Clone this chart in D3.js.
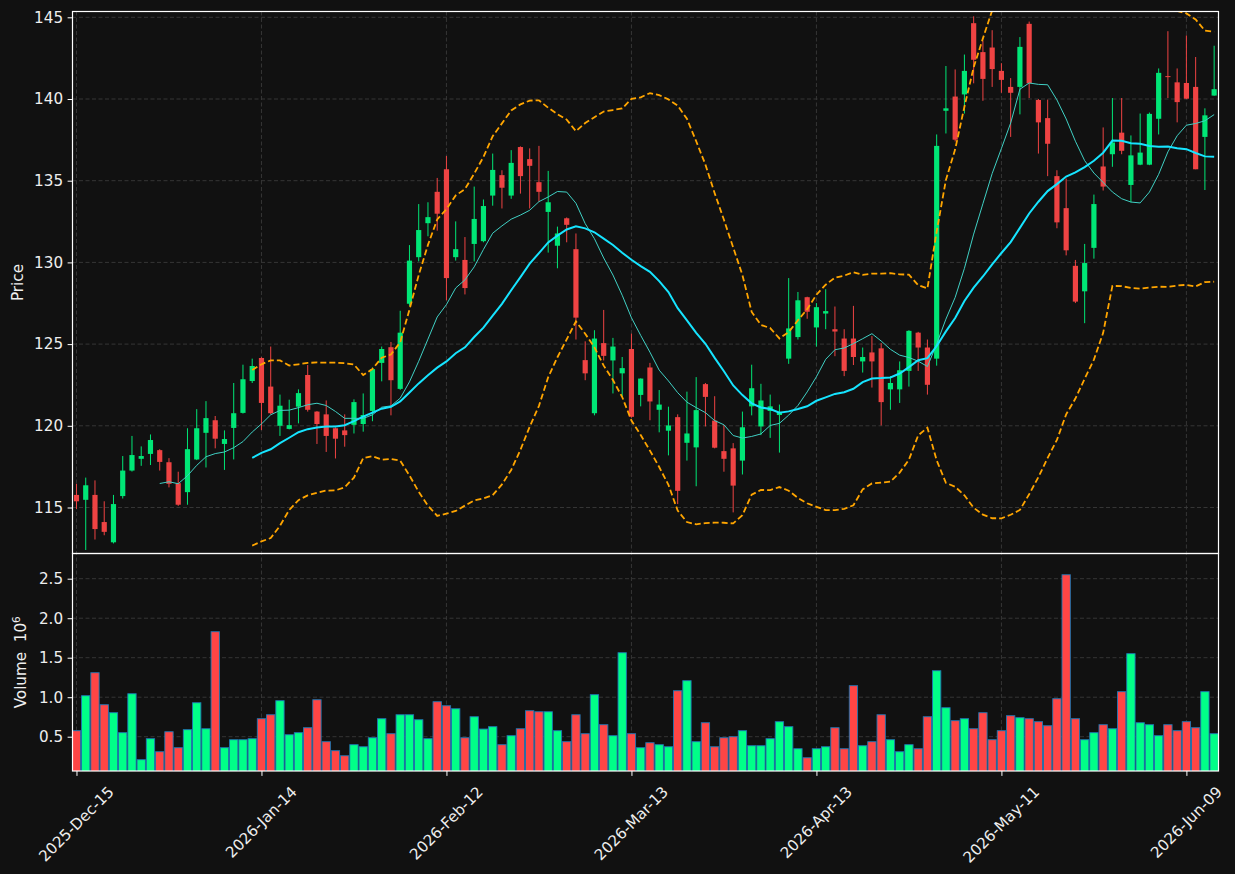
<!DOCTYPE html>
<html>
<head>
<meta charset="utf-8">
<script src="https://cdn.jsdelivr.net/npm/d3@7"></script>
<style>
  body { margin: 0; background: #111111; }
</style>
</head>
<body>
<div id="chart"></div>
<script>
// daily OHLC
const opens = [115.77,115.47,115.77,114.11,112.87,115.70,117.26,117.98,118.28,118.51,
  117.77,116.49,115.94,117.94,119.57,120.34,118.89,119.87,120.79,122.74,
  124.15,122.40,120.00,119.81,121.17,123.11,120.87,120.70,119.85,119.72,
  120.06,120.11,120.91,123.85,124.81,122.26,127.47,130.32,132.40,134.32,
  135.70,130.32,130.15,131.13,131.30,134.09,135.34,134.09,137.06,136.32,
  134.91,133.09,131.02,132.70,130.81,124.02,120.77,125.06,124.00,123.21,
  124.70,121.89,123.57,120.98,119.70,120.53,118.96,118.68,122.55,120.32,
  118.45,118.62,117.87,121.19,119.96,120.91,120.66,124.11,125.43,127.87,
  126.02,126.87,125.91,125.34,125.34,123.94,124.49,124.74,122.23,122.23,
  123.36,125.70,124.79,124.11,139.28,140.15,140.28,144.64,142.87,143.15,
  141.72,140.74,140.74,144.60,139.94,138.83,135.28,133.32,129.79,128.23,
  130.89,135.87,136.62,137.94,134.74,135.98,135.98,138.79,141.40,141.02,
  140.98,140.74,137.68,140.21];
const highs = [116.45,116.83,116.66,115.38,115.77,118.15,119.38,118.74,119.47,118.57,
  118.02,117.19,119.85,121.02,121.51,120.60,119.72,122.62,123.74,124.11,
  124.20,124.85,121.91,121.60,122.23,123.72,120.90,121.55,119.90,120.70,
  121.62,121.98,123.57,124.85,125.13,127.04,131.06,133.57,133.68,135.17,
  136.51,132.51,131.55,134.64,133.85,136.66,135.64,136.87,137.10,136.98,
  137.13,135.60,132.19,132.75,131.77,125.17,125.85,127.09,125.38,124.21,
  125.64,122.90,123.85,122.19,121.17,120.70,122.09,122.98,122.62,121.81,
  120.06,118.94,120.87,123.74,122.57,121.91,121.30,129.04,128.19,127.90,
  127.51,128.36,127.30,125.91,127.34,124.79,125.49,125.06,123.04,123.94,
  125.85,125.75,125.28,137.83,142.02,141.81,142.72,145.06,143.57,144.21,
  142.19,141.28,143.79,144.74,140.00,139.96,135.64,135.13,130.15,131.13,
  134.15,138.26,140.06,140.06,137.77,139.11,139.17,141.87,144.15,141.87,
  143.89,142.57,139.43,143.26];
const lows = [114.91,112.40,113.04,113.30,112.80,115.55,117.20,117.55,117.60,117.26,
  116.23,115.10,115.17,117.90,117.45,118.62,117.30,117.94,120.75,122.62,
  119.74,120.70,119.38,119.78,120.15,120.87,118.89,118.40,118.00,118.72,
  119.53,119.64,120.28,122.72,120.64,122.20,127.34,130.06,131.60,131.94,
  127.68,130.11,128.04,130.06,131.23,133.47,133.30,133.89,134.21,133.30,
  133.72,130.60,129.64,131.23,125.28,122.79,120.64,124.00,121.98,121.77,
  120.50,121.19,120.34,119.60,118.19,115.21,117.87,116.30,119.96,118.62,
  117.19,114.70,117.02,120.64,119.43,119.26,118.36,123.79,125.28,126.55,
  124.85,125.91,124.26,123.04,123.72,123.26,122.34,120.02,120.98,121.40,
  122.40,123.36,121.91,123.68,137.89,137.40,139.11,140.96,139.89,140.74,
  140.38,137.68,139.06,140.06,136.66,135.28,132.09,130.43,127.51,126.28,
  130.23,134.40,135.85,136.62,133.68,135.95,135.95,137.83,140.06,138.57,
  140.00,135.70,134.43,140.20];
const closes = [115.38,116.36,113.68,113.51,115.21,117.26,118.21,118.15,119.13,117.79,
  116.45,115.17,118.57,119.85,120.47,119.21,119.19,120.77,122.85,123.66,
  121.40,120.77,121.23,120.04,122.00,120.98,120.11,119.38,119.21,119.43,
  121.45,120.66,123.47,124.70,122.79,125.70,130.11,131.98,132.77,132.98,
  129.04,130.81,128.43,132.66,133.45,135.66,134.57,136.09,135.28,135.91,
  134.32,133.68,131.77,132.30,126.62,123.21,125.34,124.28,124.85,123.53,
  120.55,122.89,121.49,121.30,120.02,116.02,119.53,120.96,121.77,118.66,
  117.98,116.34,119.91,122.30,121.55,121.19,120.85,125.96,127.68,126.98,
  127.26,127.02,125.77,123.36,124.21,124.21,123.94,121.45,122.62,123.40,
  125.81,124.79,122.51,137.13,139.43,137.51,141.72,142.40,141.23,141.83,
  141.17,140.38,143.19,140.96,138.57,137.26,132.45,130.74,127.60,129.96,
  133.57,134.64,137.34,136.83,136.55,136.72,139.09,141.60,141.36,139.81,
  140.02,135.70,139.00,140.60];
// volume in millions
const volumes = [0.576,1.019,1.310,0.905,0.804,0.551,1.044,0.209,0.475,0.310,
  0.563,0.361,0.589,0.930,0.601,1.829,0.361,0.462,0.462,0.475,
  0.728,0.778,0.956,0.525,0.551,0.614,0.968,0.437,0.323,0.259,
  0.399,0.373,0.487,0.728,0.538,0.778,0.778,0.715,0.475,0.943,
  0.892,0.854,0.487,0.753,0.597,0.627,0.399,0.513,0.601,0.829,
  0.816,0.816,0.576,0.437,0.778,0.538,1.032,0.652,0.513,1.563,
  0.538,0.361,0.424,0.399,0.373,1.082,1.209,0.437,0.677,0.373,
  0.487,0.500,0.576,0.386,0.386,0.475,0.690,0.627,0.348,0.234,
  0.348,0.373,0.614,0.348,1.146,0.386,0.437,0.778,0.462,0.310,
  0.399,0.348,0.753,1.335,0.867,0.703,0.728,0.601,0.804,0.462,
  0.576,0.766,0.741,0.728,0.690,0.639,0.981,2.550,0.728,0.462,
  0.551,0.652,0.601,1.070,1.551,0.677,0.652,0.513,0.652,0.576,
  0.690,0.614,1.070,0.538];

const tickIndex = [0, 20, 40, 60, 80, 100, 120];
const tickLabels = ["2025-Dec-15", "2026-Jan-14", "2026-Feb-12", "2026-Mar-13",
  "2026-Apr-13", "2026-May-11", "2026-Jun-09"];
const priceTicks = [115, 120, 125, 130, 135, 140, 145];
const volTicks = [0.5, 1.0, 1.5, 2.0, 2.5];

const width = 1235, height = 874;
const left = 72.5, right = 1218.5;
const main = { top: 11.5, bottom: 553.5 };
const vol = { top: 553.5, bottom: 771 };

const upColor = "#00e676", downColor = "#ef4343";
const volUp = "#00ff88", volDown = "#ff4545";
const gridColor = "#3a3a3a";
const font = '"DejaVu Sans", Verdana, sans-serif';
const fontSize = 15.2;

const n = closes.length;
const idx = d3.range(n);

// rolling stats from the closes
function rolling(arr, w, f) {
  return arr.map((_, i) => i < w - 1 ? null : f(arr.slice(i - w + 1, i + 1)));
}
const ma10 = rolling(closes, 10, d3.mean);
const ma20 = rolling(closes, 20, d3.mean);
const sd20 = rolling(closes, 20, w => {
  const m = d3.mean(w);
  return Math.sqrt(d3.mean(w, v => (v - m) ** 2));
});
const upper = ma20.map((m, i) => m === null ? null : m + 2 * sd20[i]);
const lower = ma20.map((m, i) => m === null ? null : m - 2 * sd20[i]);

const svg = d3.select("#chart")
  .append("svg")
  .attr("width", width)
  .attr("height", height)
  .style("background", "#111111")
  .style("font-family", font);

let x = d3.scaleLinear()
  .domain([-0.43, n - 1 + 0.47])
  .range([left, right]);
const step = x(1) - x(0);

let y = d3.scaleLinear()
  .domain([112.185, 145.355])
  .range([main.bottom, main.top]);

let yv = d3.scaleLinear()
  .domain([0.066, 2.819])
  .range([vol.bottom, vol.top]);

// clip paths for the two panels
const defs = svg.append("defs");
defs.append("clipPath").attr("id", "clipMain")
  .append("rect").attr("x", left).attr("y", main.top)
  .attr("width", right - left).attr("height", main.bottom - main.top);
defs.append("clipPath").attr("id", "clipVol")
  .append("rect").attr("x", left).attr("y", vol.top)
  .attr("width", right - left).attr("height", vol.bottom - vol.top);

// grid
const grid = svg.append("g")
  .attr("stroke", gridColor)
  .attr("stroke-width", 0.9)
  .attr("stroke-dasharray", "4,2.5");
grid.selectAll(".vg")
  .data(tickIndex)
  .join("line")
  .attr("x1", d => x(d)).attr("x2", d => x(d))
  .attr("y1", main.top).attr("y2", vol.bottom);
grid.selectAll(".hg")
  .data(priceTicks)
  .join("line")
  .attr("class", "hg")
  .attr("x1", left).attr("x2", right)
  .attr("y1", d => y(d)).attr("y2", d => y(d));
grid.selectAll(".hv")
  .data(volTicks)
  .join("line")
  .attr("class", "hv")
  .attr("x1", left).attr("x2", right)
  .attr("y1", d => yv(d)).attr("y2", d => yv(d));

// volume bars
const bw = step * 0.9;
svg.append("g")
  .attr("clip-path", "url(#clipVol)")
  .selectAll("rect")
  .data(idx)
  .join("rect")
  .attr("x", i => x(i) - bw / 2)
  .attr("width", bw)
  .attr("y", i => yv(volumes[i]))
  .attr("height", i => yv.range()[0] - yv(volumes[i]) + 2)
  .attr("fill", i => closes[i] >= opens[i] ? volUp : volDown)
  .attr("stroke", "#1f77b4")
  .attr("stroke-width", 0.9);

// candles
const candles = svg.append("g").attr("clip-path", "url(#clipMain)");
candles.selectAll(".wick")
  .data(idx)
  .join("line")
  .attr("class", "wick")
  .attr("x1", i => x(i)).attr("x2", i => x(i))
  .attr("y1", i => y(highs[i])).attr("y2", i => y(lows[i]))
  .attr("stroke", i => closes[i] >= opens[i] ? upColor : downColor)
  .attr("stroke-width", 1);
const cw = step * 0.56;
candles.selectAll(".body")
  .data(idx)
  .join("rect")
  .attr("class", "body")
  .attr("x", i => x(i) - cw / 2)
  .attr("width", cw)
  .attr("y", i => y(Math.max(opens[i], closes[i])))
  .attr("height", i => Math.max(1, Math.abs(y(opens[i]) - y(closes[i]))))
  .attr("fill", i => closes[i] >= opens[i] ? upColor : downColor);

// moving averages and bands
const lineGen = arr => d3.line()
  .defined(i => arr[i] !== null)
  .x(i => x(i))
  .y(i => y(arr[i]))(idx);

const lines = svg.append("g").attr("clip-path", "url(#clipMain)").attr("fill", "none");
lines.append("path").attr("d", lineGen(ma10))
  .attr("stroke", "#40d0c4").attr("stroke-width", 1);
lines.append("path").attr("d", lineGen(ma20))
  .attr("stroke", "#16e4ff").attr("stroke-width", 2);
[upper, lower].forEach(b => {
  lines.append("path").attr("d", lineGen(b))
    .attr("stroke", "#ffa500").attr("stroke-width", 1.8)
    .attr("stroke-dasharray", "6,3");
});

// axes
const yAxis = svg.append("g")
  .attr("transform", `translate(${left},0)`)
  .call(d3.axisLeft(y).tickValues(priceTicks).tickSize(4.9).tickPadding(4.5).tickFormat(d3.format("d")));
const vAxis = svg.append("g")
  .attr("transform", `translate(${left},0)`)
  .call(d3.axisLeft(yv).tickValues(volTicks).tickSize(4.9).tickPadding(4.5).tickFormat(d3.format(".1f")));
const xAxis = svg.append("g")
  .attr("transform", `translate(0,${vol.bottom})`)
  .call(d3.axisBottom(x).tickValues(tickIndex).tickSize(4.9).tickFormat(""));

[yAxis, vAxis, xAxis].forEach(g => {
  g.attr("font-family", null).attr("font-size", null);
  g.select(".domain").remove();
  g.selectAll(".tick line").attr("stroke", "#ffffff").attr("stroke-width", 1);
  g.selectAll("text").attr("fill", "#eeeeee")
    .style("font-family", font)
    .style("font-size", fontSize + "px");
});

// rotated date labels, centred under their ticks
const xl = svg.append("g");
tickIndex.forEach((t, k) => {
  const txt = xl.append("text")
    .text(tickLabels[k])
    .attr("fill", "#eeeeee")
    .style("font-family", font)
    .style("font-size", fontSize + "px")
    .attr("text-anchor", "middle")
    .attr("dominant-baseline", "central");
  const len = txt.node().getComputedTextLength();
  const half = (len + fontSize) * Math.SQRT1_2 / 2;
  const cy = vol.bottom + 13 + half;
  txt.attr("transform", `translate(${x(t)},${cy}) rotate(-45)`);
});

// panel frames
const frame = svg.append("g").attr("fill", "none").attr("stroke", "#ffffff").attr("stroke-width", 1.2);
frame.append("rect").attr("x", left).attr("y", main.top)
  .attr("width", right - left).attr("height", main.bottom - main.top);
frame.append("rect").attr("x", left).attr("y", vol.top)
  .attr("width", right - left).attr("height", vol.bottom - vol.top);

// axis titles
svg.append("text")
  .attr("transform", `translate(23,${(main.top + main.bottom) / 2}) rotate(-90)`)
  .attr("text-anchor", "middle")
  .attr("fill", "#eeeeee")
  .style("font-family", font)
  .style("font-size", fontSize + "px")
  .text("Price");

const vt = svg.append("text")
  .attr("transform", `translate(26,${(vol.top + vol.bottom) / 2}) rotate(-90)`)
  .attr("text-anchor", "middle")
  .attr("fill", "#eeeeee")
  .style("font-family", font)
  .style("font-size", fontSize + "px");
vt.append("tspan").text("Volume\u00a0\u00a010");
vt.append("tspan").attr("dy", -6.5).style("font-size", "10.6px").text("6");
</script>
</body>
</html>
